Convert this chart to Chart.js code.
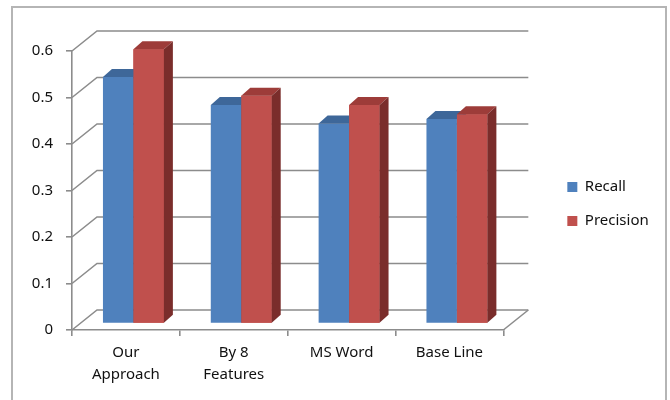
<!DOCTYPE html>
<html>
<head>
<meta charset="utf-8">
<script src="https://cdn.jsdelivr.net/npm/chart.js@4"></script>
<style>
body{margin:0;background:#fff}
</style>
</head>
<body>
<canvas id="chart" width="670" height="400"></canvas>
<script>

const kategori=[["Our","Approach"],["By 8","Features"],"MS Word","Base Line"]
const recall=[0.53,0.47,0.43,0.44]
const precision=[0.59,0.49,0.47,0.45]
const yTicks=[0,0.1,0.2,0.3,0.4,0.5,0.6]

// depth of the floor / back wall, bar offset and bar depth
const wall={dx:25,dy:-20}
const geser={x:7.5,y:-6.5}
const tebal={dx:9,dy:-8}

const warnaAtas=["#3e6799","#9d3c39"]
const warnaSamping=["#2f5280","#7a2d2b"]

const garis="#8c8c8c"

const efek3d={
id:"efek3d",
beforeDraw(chart){
let ctx=chart.ctx
ctx.save()
ctx.strokeStyle="#b5b5b5"
ctx.lineWidth=2
ctx.strokeRect(12,7,654,420)
ctx.restore()
},
beforeDatasetsDraw(chart){
let ctx=chart.ctx
let y=chart.scales.y
let a=chart.chartArea
ctx.save()
ctx.strokeStyle=garis
ctx.lineWidth=1.6
yTicks.forEach(t=>{
let py=y.getPixelForValue(t)
ctx.beginPath()
ctx.moveTo(a.left,py)
ctx.lineTo(a.left+wall.dx,py+wall.dy)
ctx.lineTo(a.right+wall.dx,py+wall.dy)
ctx.stroke()
})
let p0=y.getPixelForValue(0)
ctx.beginPath()
ctx.moveTo(a.right,p0)
ctx.lineTo(a.right+wall.dx,p0+wall.dy)
ctx.stroke()
ctx.restore()

ctx.save()
ctx.translate(geser.x,geser.y)
},
afterDatasetsDraw(chart){
let ctx=chart.ctx
let n=chart.data.labels.length
for(let i=0;i<n;i++){
for(let d=0;d<2;d++){
let el=chart.getDatasetMeta(d).data[i]
let {x,y,base,width}=el.getProps(["x","y","base","width"])
let l=x-width/2
let r=x+width/2
if(d==1) el.draw(ctx)
ctx.fillStyle=warnaAtas[d]
ctx.beginPath()
ctx.moveTo(l,y)
ctx.lineTo(r,y)
ctx.lineTo(r+tebal.dx,y+tebal.dy)
ctx.lineTo(l+tebal.dx,y+tebal.dy)
ctx.closePath()
ctx.fill()
ctx.fillStyle=warnaSamping[d]
ctx.beginPath()
ctx.moveTo(r,y)
ctx.lineTo(r+tebal.dx,y+tebal.dy)
ctx.lineTo(r+tebal.dx,base+tebal.dy)
ctx.lineTo(r,base)
ctx.closePath()
ctx.fill()
}
}
ctx.restore()
}
}

const font={family:"'Noto Sans', sans-serif",size:15}

new Chart(document.getElementById("chart"),{
type:"bar",
data:{
labels:kategori,
datasets:[{
label:"Recall",
data:recall,
backgroundColor:"#4f81bd",
borderWidth:0
},{
label:"Precision",
data:precision,
backgroundColor:"#c0504d",
borderWidth:0
}]
},
options:{
responsive:false,
animation:false,
layout:{padding:{top:8,left:0,right:12,bottom:0}},
datasets:{bar:{barPercentage:1,categoryPercentage:0.565}},
plugins:{
legend:{
position:"right",
labels:{boxWidth:10,boxHeight:10,padding:19,color:"#111",font:font}
},
tooltip:{enabled:false}
},
scales:{
x:{
grid:{display:true,drawOnChartArea:false,drawTicks:true,tickLength:6,color:garis,lineWidth:1.6},
border:{display:true,color:garis,width:1.6},
ticks:{color:"#111",font:{...font,lineHeight:1.45},padding:6,maxRotation:0,autoSkip:false},
afterFit(s){s.height=70}
},
// empty boxes that only reserve space above and right of the plot
x2:{
type:"category",
position:"top",
display:true,
grid:{display:false},
border:{display:false},
ticks:{display:false},
afterFit(s){s.height=43}
},
y:{
min:0,max:0.6,
grid:{display:true,drawOnChartArea:false,drawTicks:true,tickLength:6,color:garis,lineWidth:1.6},
border:{display:true,color:garis,width:1.6},
ticks:{stepSize:0.1,color:"#111",font:font,padding:13,callback:v=>String(Number(v.toFixed(1)))},
afterFit(s){s.width=72}
},
y2:{
type:"linear",
position:"right",
display:true,
grid:{display:false},
border:{display:false},
ticks:{display:false},
afterFit(s){s.width=45}
}
}
},
plugins:[efek3d]
})

</script>
</body>
</html>
